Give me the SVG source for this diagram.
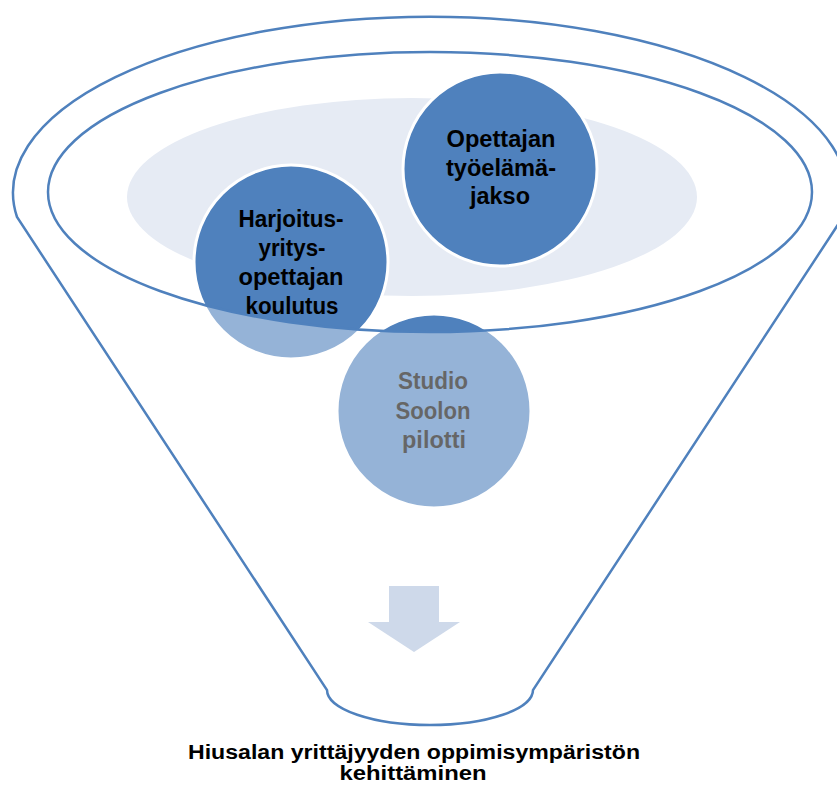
<svg xmlns="http://www.w3.org/2000/svg" width="837" height="792" viewBox="0 0 837 792">
  <style>
    .bubble { fill: #4F81BD; stroke: #FFFFFF; stroke-width: 3; }
    .lbl { font-family: "Liberation Sans", Arial, sans-serif; font-weight: bold; font-size: 23px; fill: #000000; text-anchor: middle; }
    .title { font-family: "Liberation Sans", Arial, sans-serif; font-weight: bold; font-size: 20px; fill: #000000; text-anchor: middle; }
    .outline { fill: none; stroke: #4F81BD; stroke-width: 2.5; }
  </style>
  <rect width="837" height="792" fill="#FFFFFF"/>

  <!-- funnel opening -->
  <g id="opening">
    <ellipse cx="412" cy="197" rx="285" ry="99" fill="#E6EBF4"/>
  </g>

  <!-- items -->
  <g id="node-opettajan">
    <circle class="bubble" cx="500" cy="169" r="97"/>
    <text class="lbl" x="501" y="147" textLength="109" lengthAdjust="spacingAndGlyphs">Opettajan</text>
    <text class="lbl" x="501" y="176" textLength="110" lengthAdjust="spacingAndGlyphs">työelämä-</text>
    <text class="lbl" x="500" y="204" textLength="60" lengthAdjust="spacingAndGlyphs">jakso</text>
  </g>
  <g id="node-harjoitus">
    <circle class="bubble" cx="291" cy="262" r="97"/>
    <text class="lbl" x="291" y="227" textLength="105" lengthAdjust="spacingAndGlyphs">Harjoitus-</text>
    <text class="lbl" x="292" y="256" textLength="67" lengthAdjust="spacingAndGlyphs">yritys-</text>
    <text class="lbl" x="291" y="285" textLength="105" lengthAdjust="spacingAndGlyphs">opettajan</text>
    <text class="lbl" x="292" y="314" textLength="93" lengthAdjust="spacingAndGlyphs">koulutus</text>
  </g>
  <g id="node-studio">
    <circle class="bubble" cx="434" cy="411" r="97"/>
    <text class="lbl" x="433" y="389" textLength="70" lengthAdjust="spacingAndGlyphs">Studio</text>
    <text class="lbl" x="433" y="419" textLength="75" lengthAdjust="spacingAndGlyphs">Soolon</text>
    <text class="lbl" x="434" y="448" textLength="64" lengthAdjust="spacingAndGlyphs">pilotti</text>
  </g>

  <!-- funnel body: translucent white everywhere except the opening -->
  <g id="funnel">
    <path fill="#FFFFFF" fill-opacity="0.4" fill-rule="evenodd"
          d="M 17 217 A 417 176 0 1 1 843 217 L 533 690 A 103 35 0 0 1 327 690 Z
             M 48 192 A 382 140 0 1 0 812 192 A 382 140 0 1 0 48 192 Z"/>
    <path class="outline" d="M 17 217 A 417 176 0 1 1 843 217 L 533 690 A 103 35 0 0 1 327 690 Z"/>
    <ellipse class="outline" cx="430" cy="192" rx="382" ry="140"/>
  </g>

  <g id="connectors">
    <path d="M 389 586 L 439 586 L 439 622 L 460 622 L 414 652 L 368 622 L 389 622 Z" fill="#CED9EA"/>
  </g>

  <g id="result">
    <text class="title" x="414" y="759" textLength="452" lengthAdjust="spacingAndGlyphs">Hiusalan yrittäjyyden oppimisympäristön</text>
    <text class="title" x="413" y="780" textLength="147" lengthAdjust="spacingAndGlyphs">kehittäminen</text>
  </g>
</svg>
